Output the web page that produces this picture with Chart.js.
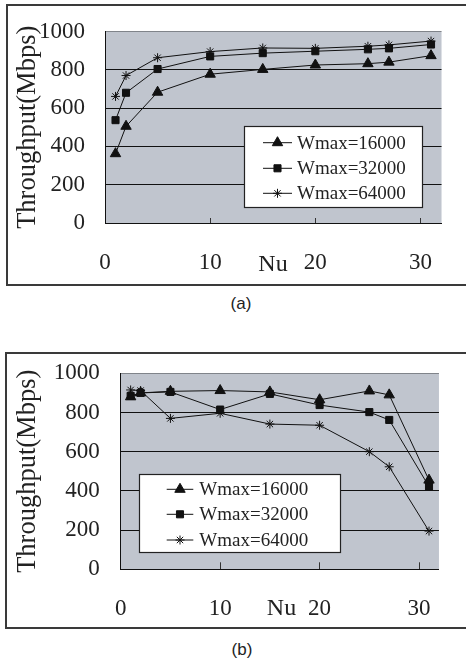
<!DOCTYPE html>
<html><head><meta charset="utf-8">
<script src="https://cdn.jsdelivr.net/npm/chart.js@4/dist/chart.umd.min.js"></script>
<style>
html,body{margin:0;padding:0;background:#fff;}
body{position:relative;width:466px;height:665px;overflow:hidden;}
.frame{position:absolute;border:2px solid #3a3a3a;box-sizing:border-box;}
canvas{position:absolute;left:0;}
.cap{position:absolute;font-family:'Liberation Sans',Arial,sans-serif;font-size:17px;color:#222;transform:translate(-50%,-50%);white-space:nowrap;}
</style></head><body>
<div class="frame" style="left:6px;top:4px;width:470px;height:282px"></div>
<canvas id="ca" width="466" height="290" style="top:0"></canvas>
<div class="cap" style="left:241px;top:304px">(a)</div>
<div class="frame" style="left:5px;top:352px;width:470px;height:277px"></div>
<canvas id="cb" width="466" height="300" style="top:335px"></canvas>
<div class="cap" style="left:242px;top:650px">(b)</div>
<script>
// ---- data ----
const nu = [1, 2, 5, 10, 15, 20, 25, 27, 31];
const seriesNames = ['Wmax=16000', 'Wmax=32000', 'Wmax=64000'];
const aW16000 = [362, 505, 683, 777, 802, 825, 832, 840, 874];
const aW32000 = [537, 680, 804, 870, 887, 897, 907, 912, 932];
const aW64000 = [661, 770, 863, 895, 914, 912, 923, 930, 950];
const bW16000 = [880, 900, 908, 912, 905, 865, 910, 890, 455];
const bW32000 = [885, 900, 905, 815, 895, 838, 802, 762, 422];
const bW64000 = [915, 912, 770, 796, 741, 735, 600, 523, 195];
const xTickValues = [0, 10, 20, 30];
const yTickValues = [0, 200, 400, 600, 800, 1000];
const yTitleText = 'Throughput(Mbps)';
const xTitleText = 'Nu';

const serif = "'Liberation Serif','Times New Roman',serif";
const markerStyles = [
  {pointStyle: 'triangle', radius: 6},
  {pointStyle: 'rect', radius: 5},
  {pointStyle: 'star', radius: 4.5}
];

function drawMarker(ctx, style, r, x, y) {
  if (Chart.helpers && Chart.helpers.drawPoint) {
    Chart.helpers.drawPoint(ctx, {pointStyle: style, radius: r, rotation: 0, borderWidth: 1}, x, y);
  }
}

function makeChart(id, series, L) {
  const datasets = series.map((vals, i) => ({
    label: seriesNames[i],
    data: nu.map((x, j) => ({x: x, y: vals[j]})),
    borderColor: '#111', borderWidth: 1, backgroundColor: '#111',
    pointStyle: markerStyles[i].pointStyle, pointRadius: markerStyles[i].radius,
    pointBorderWidth: 1, pointBackgroundColor: '#111', pointBorderColor: '#111',
    tension: 0, fill: false
  }));
  const plotBg = {
    id: 'plotBg',
    beforeDraw(chart) {
      const {ctx, chartArea: a} = chart;
      ctx.save(); ctx.fillStyle = '#c0c5ce';
      ctx.fillRect(a.left, a.top, a.right - a.left, a.bottom - a.top);
      ctx.restore();
    }
  };
  const boxLegend = {
    id: 'boxLegend',
    afterDatasetsDraw(chart) {
      const ctx = chart.ctx;
      ctx.save();
      ctx.fillStyle = '#fff'; ctx.strokeStyle = '#222'; ctx.lineWidth = 1.2;
      ctx.fillRect(L.lgX, L.lgY, L.lgW, L.lgH);
      ctx.strokeRect(L.lgX + 0.5, L.lgY + 0.5, L.lgW, L.lgH);
      chart.data.datasets.forEach((ds, i) => {
        const y = L.lgRows[i];
        ctx.strokeStyle = '#111'; ctx.fillStyle = '#111'; ctx.lineWidth = 1;
        ctx.beginPath(); ctx.moveTo(L.lgL0, y); ctx.lineTo(L.lgL1, y); ctx.stroke();
        drawMarker(ctx, ds.pointStyle, ds.pointRadius, (L.lgL0 + L.lgL1) / 2, y);
        ctx.fillStyle = '#222';
        ctx.font = '19px ' + serif;
        ctx.textAlign = 'left'; ctx.textBaseline = 'middle';
        ctx.fillText(ds.label, L.lgT, y + 1);
      });
      ctx.restore();
    }
  };
  const xName = {
    id: 'xName',
    afterDraw(chart) {
      const ctx = chart.ctx;
      ctx.save();
      ctx.fillStyle = '#222'; ctx.font = '24px ' + serif;
      ctx.textAlign = 'center'; ctx.textBaseline = 'middle';
      ctx.fillText(xTitleText, L.nuX, L.nuY);
      ctx.restore();
    }
  };
  return new Chart(document.getElementById(id), {
    type: 'line',
    data: {datasets: datasets},
    options: {
      responsive: false, animation: false, devicePixelRatio: 1,
      layout: {padding: {left: L.padLeft, top: L.plotTop, right: 466 - L.plotRight, bottom: 0}},
      scales: {
        x: {
          type: 'linear', min: 0, max: 32,
          afterBuildTicks: s => { s.ticks = xTickValues.map(v => ({value: v})); },
          afterFit: s => { s.height = L.canvasH - L.plotBottom; },
          grid: {drawOnChartArea: false, drawTicks: true, tickLength: -L.tickLen, color: '#333', lineWidth: 1},
          border: {display: true, color: '#111', width: 1},
          ticks: {padding: L.xTickPad, color: '#222', font: {family: serif, size: 23, lineHeight: 1}, maxRotation: 0, autoSkip: false,
                  callback: v => String(v)}
        },
        y: {
          type: 'linear', min: 0, max: 1000,
          afterBuildTicks: s => { s.ticks = yTickValues.map(v => ({value: v})); },
          afterFit: s => { s.width = L.plotLeft - L.padLeft; },
          grid: {drawTicks: false, color: c => (c.tick && c.tick.value === 1000) ? '#80848a' : '#111', lineWidth: 1},
          border: {display: true, color: '#111', width: 1},
          ticks: {padding: L.yTickPad, color: '#222', font: {family: serif, size: 23, lineHeight: 1},
                  callback: v => String(v)},
          title: {display: true, text: yTitleText, color: '#222', padding: 0, font: {family: serif, size: 26.5, lineHeight: 1}}
        }
      },
      plugins: {legend: {display: false}, tooltip: {enabled: false}}
    },
    plugins: [plotBg, boxLegend, xName]
  });
}

makeChart('ca', [aW16000, aW32000, aW64000], {
  plotLeft: 105, plotRight: 458, plotTop: 28, plotBottom: 223, canvasH: 290,
  padLeft: 14.5, tickLen: 5, xTickPad: 33.5, yTickPad: 20,
  nuX: 273, nuY: 265,
  lgX: 244, lgY: 126, lgW: 178, lgH: 81, lgL0: 263, lgL1: 292, lgT: 297,
  lgRows: [142.7, 168.3, 193.3]
});
makeChart('cb', [bW16000, bW32000, bW64000], {
  plotLeft: 120.7, plotRight: 459, plotTop: 38.3, plotBottom: 234.3, canvasH: 300,
  padLeft: 14.5, tickLen: 7, xTickPad: 35, yTickPad: 21,
  nuX: 281.5, nuY: 274,
  lgX: 139, lgY: 139, lgW: 201, lgH: 78, lgL0: 166.7, lgL1: 193.3, lgT: 199.3,
  lgRows: [154.3, 179.3, 205]
});
</script>
</body></html>
